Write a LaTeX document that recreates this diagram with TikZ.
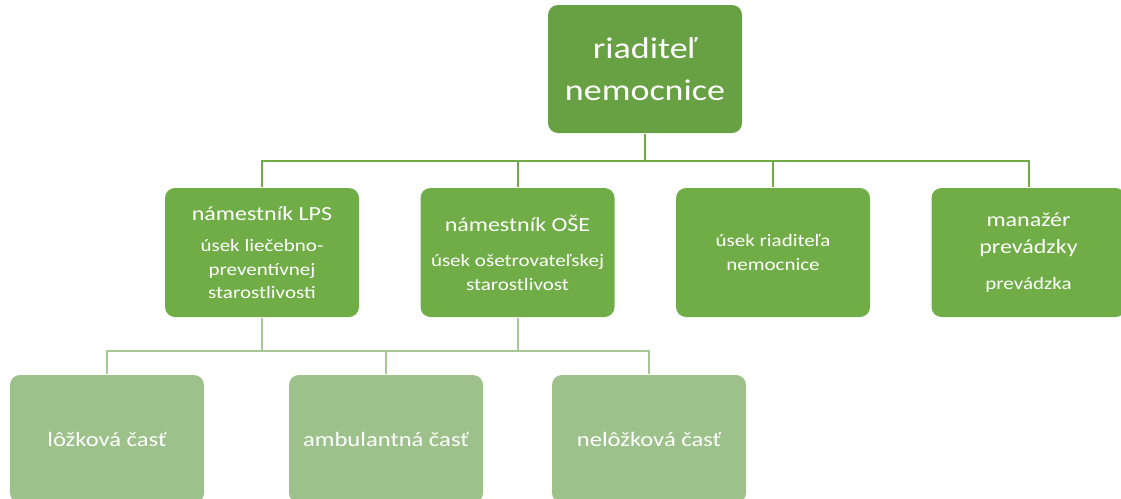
\documentclass[tikz,border=0pt]{standalone}
\usepackage{fontspec}
\setmainfont{Carlito}[FakeStretch=1.2]
\usetikzlibrary{positioning}
\definecolor{topgreen}{HTML}{68A044}
\definecolor{midgreen}{HTML}{70AD47}
\definecolor{lowgreen}{HTML}{9DC18B}
\definecolor{lowline}{HTML}{A5C994}
\newcommand{\headfont}{\fontsize{20}{24}\selectfont}
\newcommand{\smallfont}{\fontsize{17.5}{23.5}\selectfont}

\begin{document}
\begin{tikzpicture}[x=1pt,y=-1pt,node distance=255.5pt,line width=2pt]
  \tikzstyle{box}=[rectangle,rounded corners=10pt,text=white,align=center,
                   minimum width=194pt,minimum height=128pt,inner sep=0pt]
  \tikzstyle{chief}=[box,fill=topgreen,font=\fontsize{30}{42}\selectfont]
  \tikzstyle{deputy}=[box,fill=midgreen,minimum height=129pt,font=\smallfont]
  \tikzstyle{part}=[box,fill=lowgreen,font=\fontsize{20.5}{24}\selectfont]
  \tikzstyle{bus}=[draw=midgreen]
  \tikzstyle{subbus}=[draw=lowline]

  \useasboundingbox (0,0) rectangle (1121,498);

  \node[chief] (R) at (645,69) {riaditeľ\\nemocnice};

  \node[deputy] (A) at (262,252.5) {\headfont námestník LPS\\[8pt]úsek liečebno-\\preventívnej\\starostlivosti};
  \node[deputy] (B) [right of=A] {\headfont námestník OŠE\\[12pt]úsek ošetrovateľskej\\starostlivost};
  \node[deputy] (C) [right of=B] {úsek riaditeľa\\nemocnice};
  \node[deputy] (D) [right of=C] {\headfont manažér\\[4pt]\headfont prevádzky\\[12pt]prevádzka};

  \node[part] (L1) at (107,439) {lôžková časť};
  \node[part] (L2) at (386,439) {ambulantná časť};
  \node[part] (L3) at (649,439) {nelôžková časť};

  \draw[bus] (R.south) -- ++(0,27) -| (A.north);
  \draw[bus] (R.south) -- ++(0,27) -| (B.north);
  \draw[bus] (R.south) -- ++(0,27) -| (C.north);
  \draw[bus] (R.south) -- ++(0,27) -| (D.north);

  \draw[subbus] (A.south) -- ++(0,33) -| (L1.north);
  \draw[subbus] (A.south) -- ++(0,33) -| (L2.north);
  \draw[subbus] (B.south) -- ++(0,33) -| (L2.north);
  \draw[subbus] (B.south) -- ++(0,33) -| (L3.north);
\end{tikzpicture}
\end{document}
